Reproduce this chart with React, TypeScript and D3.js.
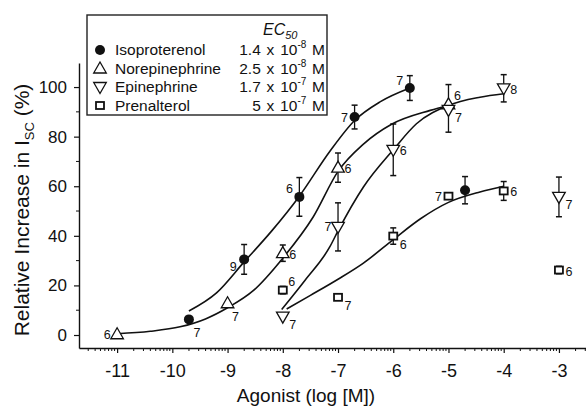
import { useEffect, useRef } from 'react';
import * as d3 from 'd3';

const W = 586;
const H = 408;
const FONT = "'Liberation Sans', Arial, Helvetica, sans-serif";

const xTicks = [-11, -10, -9, -8, -7, -6, -5, -4, -3];
const yTicks = [0, 20, 40, 60, 80, 100];
const yMinorTicks = [10, 30, 50, 70, 90];

// Isoproterenol (filled circles)
const isoX = [-9.7, -8.7, -7.7, -6.7, -5.7, -4.7];
const isoY = [6.3, 30.5, 55.7, 87.9, 99.6, 58.4];
const isoErrHi = [0, 6, 7.8, 4.8, 5, 5.5];
const isoErrLo = [0, 6, 7.8, 4.8, 5, 5.5];
const isoN = ['7', '9', '6', '7', '7', ''];
const isoLabelAt = ['br', 'bl', 'tl', 'l', 'tl', ''];
const isoFitX = [-9.7, -9.2, -8.7, -8.2, -7.7, -7.15, -6.7, -6.24, -5.7];
const isoFitY = [9.7, 17, 29.5, 42, 56, 74, 86.5, 94, 99.6];

// Norepinephrine (open triangles)
const neX = [-11, -9, -8, -7, -5];
const neY = [0.3, 12.8, 33, 67.5, 93];
const neErrHi = [0, 0, 3.3, 5.9, 8];
const neErrLo = [0, 0, 3.3, 5.9, 0];
const neN = ['6', '7', '6', '6', '6'];
const neLabelAt = ['l', 'br', 'r', 'r', 'tr'];
const neFitX = [-11, -10.4, -9.86, -9.4, -9.0, -8.53, -8.0, -7.45, -7.0, -6.54, -6.03, -5.33, -5.0];
const neFitY = [0.5, 1.5, 3.3, 6.5, 11, 18, 31, 47.6, 66, 77, 85, 90.6, 92.6];

// Epinephrine (open inverted triangles)
const epX = [-8, -7, -6, -5, -4, -3];
const epY = [7.4, 43.6, 74.7, 90.8, 99.5, 55.7];
const epErrHi = [0, 9.7, 10.4, 0, 5.5, 8];
const epErrLo = [0, 9.7, 10.4, 9, 5.5, 8];
const epN = ['7', '7', '6', '7', '8', '7'];
const epLabelAt = ['rb', 'l', 'r', 'rb', 'r', 'rb'];
const epFitX = [-8.02, -7.6, -7.15, -7.0, -6.54, -6.0, -5.58, -5.0, -4.43, -4.0];
const epFitY = [10.3, 22, 35.5, 42, 59.7, 74.7, 85.2, 92.6, 95.9, 97.3];

// Prenalterol (open squares)
const prX = [-8, -7, -6, -5, -4, -3];
const prY = [18.1, 15.2, 39.9, 56, 58.1, 26.2];
const prErrHi = [1.5, 0, 3.3, 0, 3.8, 1.5];
const prErrLo = [1.5, 0, 3.3, 0, 3.8, 1.5];
const prN = ['6', '7', '6', '7', '6', '6'];
const prLabelAt = ['tr', 'rb', 'rb', 'l', 'r', 'r'];
const prFitX = [-7.93, -7.5, -7.0, -6.54, -6.0, -5.5, -5.0, -4.43, -4.0];
const prFitY = [10.5, 16, 22.5, 29, 38.5, 47, 53.5, 57.7, 60];

const legendNames = ['Isoproterenol', 'Norepinephrine', 'Epinephrine', 'Prenalterol'];
const legendCoef = ['1.4 x 10', '2.5 x 10', '1.7 x 10', '5 x 10'];
const legendExp = ['-8', '-8', '-7', '-7'];
const legendMarkers = ['circle', 'up', 'down', 'square'];

const labelOffsets: Record<string, [number, number]> = {
  l: [-10, 0],
  bl: [-11, 7],
  tl: [-10, -8],
  r: [10, 1],
  rb: [10, 8],
  tr: [9, -9],
  br: [8, 13],
};

function drawMarker(g: any, kind: string, cx: number, cy: number) {
  if (kind === 'circle') {
    g.append('circle').attr('cx', cx).attr('cy', cy).attr('r', 5).attr('fill', '#111');
  } else if (kind === 'up') {
    g.append('path')
      .attr('d', `M${cx},${cy - 6.5}L${cx + 6.3},${cy + 4.5}L${cx - 6.3},${cy + 4.5}Z`)
      .attr('fill', '#fff').attr('stroke', '#111').attr('stroke-width', 1.3);
  } else if (kind === 'down') {
    g.append('path')
      .attr('d', `M${cx},${cy + 6.5}L${cx + 6.3},${cy - 4.5}L${cx - 6.3},${cy - 4.5}Z`)
      .attr('fill', '#fff').attr('stroke', '#111').attr('stroke-width', 1.3);
  } else {
    g.append('rect')
      .attr('x', cx - 4).attr('y', cy - 3.5).attr('width', 8).attr('height', 7)
      .attr('fill', '#fff').attr('stroke', '#111').attr('stroke-width', 1.8);
  }
}

export default function App() {
  const svgRef = useRef<SVGSVGElement>(null);

  useEffect(() => {
    if (!svgRef.current) return;
    const svg = d3.select(svgRef.current);
    svg.selectAll('*').remove();

    const x = d3.scaleLinear().domain([-11.69, -2.51]).range([79, 586]);
    const y = d3.scaleLinear().domain([-5.24, 109.7]).range([348, 63]);

    // X axis
    const xAxis = svg.append('g')
      .attr('transform', `translate(0,${y.range()[0]})`)
      .call(d3.axisBottom(x).tickValues(xTicks).tickSize(5).tickSizeOuter(0).tickPadding(11)
        .tickFormat((d: any) => `${d}`));
    xAxis.selectAll('text').attr('font-size', 18).attr('font-family', FONT).attr('fill', '#111');

    // log minor ticks inside each decade
    const xMinor: number[] = [];
    for (let dec = -12; dec <= -3; dec++) {
      for (let k = 2; k <= 9; k++) {
        const v = dec + Math.log10(k);
        if (v > x.domain()[0] && v < x.domain()[1]) xMinor.push(v);
      }
    }
    svg.append('g').selectAll('line').data(xMinor).join('line')
      .attr('x1', d => x(d)).attr('x2', d => x(d))
      .attr('y1', y.range()[0]).attr('y2', y.range()[0] + 3)
      .attr('stroke', '#111');

    // Y axis
    const yAxis = svg.append('g')
      .attr('transform', `translate(${x.range()[0]},0)`)
      .call(d3.axisLeft(y).tickValues(yTicks).tickSize(5).tickSizeOuter(0).tickPadding(7));
    yAxis.selectAll('text').attr('font-size', 17).attr('font-family', FONT).attr('fill', '#111');

    svg.append('g').selectAll('line').data(yMinorTicks).join('line')
      .attr('x1', x.range()[0] - 3).attr('x2', x.range()[0])
      .attr('y1', d => y(d)).attr('y2', d => y(d))
      .attr('stroke', '#111');

    svg.selectAll('.domain').attr('stroke', '#111').attr('stroke-width', 1.4);
    svg.selectAll('.tick line').attr('stroke', '#111').attr('stroke-width', 1.2);

    // Axis titles
    svg.append('text')
      .attr('x', 306).attr('y', 402)
      .attr('text-anchor', 'middle')
      .attr('font-family', FONT).attr('font-size', 19).attr('fill', '#111')
      .text('Agonist (log [M])');

    const yt = svg.append('text')
      .attr('transform', 'translate(29,210) rotate(-90)')
      .attr('text-anchor', 'middle')
      .attr('font-family', FONT).attr('font-size', 21).attr('fill', '#111');
    yt.append('tspan').text('Relative Increase in I');
    yt.append('tspan').attr('font-size', 13).attr('dy', 5).text('SC');
    yt.append('tspan').attr('dy', -5).text(' (%)');

    const series = [
      { kind: 'circle', xs: isoX, ys: isoY, hi: isoErrHi, lo: isoErrLo, n: isoN, at: isoLabelAt, fx: isoFitX, fy: isoFitY },
      { kind: 'up', xs: neX, ys: neY, hi: neErrHi, lo: neErrLo, n: neN, at: neLabelAt, fx: neFitX, fy: neFitY },
      { kind: 'down', xs: epX, ys: epY, hi: epErrHi, lo: epErrLo, n: epN, at: epLabelAt, fx: epFitX, fy: epFitY },
      { kind: 'square', xs: prX, ys: prY, hi: prErrHi, lo: prErrLo, n: prN, at: prLabelAt, fx: prFitX, fy: prFitY },
    ];

    const line = d3.line<[number, number]>()
      .x(d => x(d[0]))
      .y(d => y(d[1]))
      .curve(d3.curveMonotoneX);

    // Fitted curves
    series.forEach(s => {
      const pts = s.fx.map((v, i) => [v, s.fy[i]] as [number, number]);
      svg.append('path')
        .attr('d', line(pts))
        .attr('fill', 'none')
        .attr('stroke', '#111')
        .attr('stroke-width', 1.6);
    });

    // Error bars
    series.forEach(s => {
      s.xs.forEach((v, i) => {
        if (s.hi[i] === 0 && s.lo[i] === 0) return;
        const cx = x(v);
        const top = y(s.ys[i] + s.hi[i]);
        const bot = y(s.ys[i] - s.lo[i]);
        svg.append('line').attr('x1', cx).attr('x2', cx).attr('y1', top).attr('y2', bot)
          .attr('stroke', '#111').attr('stroke-width', 1.3);
        if (s.hi[i] > 0) {
          svg.append('line').attr('x1', cx - 3).attr('x2', cx + 3).attr('y1', top).attr('y2', top)
            .attr('stroke', '#111').attr('stroke-width', 1.5);
        }
        if (s.lo[i] > 0) {
          svg.append('line').attr('x1', cx - 3).attr('x2', cx + 3).attr('y1', bot).attr('y2', bot)
            .attr('stroke', '#111').attr('stroke-width', 1.5);
        }
      });
    });

    // Markers and n labels
    series.forEach(s => {
      s.xs.forEach((v, i) => {
        const cx = x(v);
        const cy = y(s.ys[i]);
        drawMarker(svg, s.kind, cx, cy);
        if (s.n[i]) {
          const off = labelOffsets[s.at[i]];
          svg.append('text')
            .attr('x', cx + off[0]).attr('y', cy + off[1])
            .attr('dy', '0.36em')
            .attr('text-anchor', 'middle')
            .attr('font-family', FONT).attr('font-size', 12.5).attr('fill', '#111')
            .text(s.n[i]);
        }
      });
    });

    // Legend
    const lg = svg.append('g');
    lg.append('rect')
      .attr('x', 87).attr('y', 15).attr('width', 240).attr('height', 100)
      .attr('fill', '#fff').attr('stroke', '#222').attr('stroke-width', 1.4);
    const hdr = lg.append('text')
      .attr('x', 263).attr('y', 35)
      .attr('font-family', FONT).attr('font-size', 16).attr('font-style', 'italic').attr('fill', '#111');
    hdr.append('tspan').text('EC');
    hdr.append('tspan').attr('font-size', 11).attr('dy', 4).text('50');

    legendNames.forEach((name, i) => {
      const base = 55 + i * 18.5;
      drawMarker(lg, legendMarkers[i], 100, base - 5);
      lg.append('text')
        .attr('x', 115).attr('y', base)
        .attr('font-family', FONT).attr('font-size', 15.5).attr('fill', '#111')
        .text(name);
      const val = lg.append('text')
        .attr('x', 325).attr('y', base)
        .attr('text-anchor', 'end')
        .attr('word-spacing', 1.5)
        .attr('font-family', FONT).attr('font-size', 15.5).attr('fill', '#111');
      val.append('tspan').text(legendCoef[i]);
      val.append('tspan').attr('font-size', 10).attr('dy', -7).text(legendExp[i]);
      val.append('tspan').attr('dy', 7).text(' M');
    });
  }, []);

  return (
    <svg
      ref={svgRef}
      width={W}
      height={H}
      style={{ position: 'absolute', left: 0, top: 0, background: '#fff' }}
    />
  );
}
